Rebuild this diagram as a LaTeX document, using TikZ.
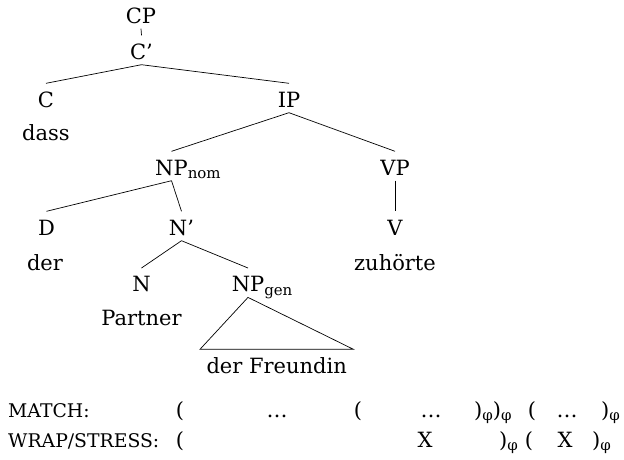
\documentclass[tikz,border=0pt]{standalone}
\usepackage{fontspec}
\setmainfont{DejaVu Serif}
\usetikzlibrary{calc}
% lowered, smaller index text (NP subscripts, phrase marks)
\newcommand\lowidx[1]{\raisebox{-3.5pt}{\fontsize{15}{15}\selectfont #1}}
% small-capital style labels of the constraint rows
\newcommand\smcap[1]{{\fontsize{18.8}{19}\selectfont #1}}
\begin{document}
\begin{tikzpicture}[x=1pt,y=-1pt,
  every node/.style={font=\fontsize{21}{25}\selectfont},
  cat/.style={anchor=base, text height=18pt, text depth=0pt, inner ysep=5.5pt, inner xsep=0pt},
  word/.style={anchor=base, inner sep=0pt},
  branch/.style={line width=0.7pt},
  rowlabel/.style={anchor=base west, inner sep=0pt}]
\useasboundingbox (0,0) rectangle (624,459);

% tree nodes
\node[cat] (cp) at (141,23) {CP};
\node[cat] (cbar) at (141.5,59) {C’};
\node[cat] (c) at (46,107) {C};
\node[word] (dass) at (46,140) {dass};
\node[cat] (ip) at (289,107) {IP};
\node[cat] (npn) at (171.5,175) {NP\rlap{\lowidx{nom}}};
\node[cat] (vp) at (395,175) {VP};
\node[cat] (d) at (46.5,235) {D};
\node[word] (der) at (45,270) {der};
\node[cat] (nbar) at (181.5,235) {N’};
\node[cat] (v) at (395,235) {V};
\node[word] (zuh) at (395,270) {zuhörte};
\node[cat] (n) at (141.5,291.7) {N};
\node[word] (partner) at (141.5,325.7) {Partner};
\node[cat] (npg) at (248,291.7) {NP\rlap{\lowidx{gen}}};
\node[cat] (fr) at (276.7,373) {der Freundin};

% branches
\draw[branch] (cp.south) -- (cbar.north);
\draw[branch] (cbar.south) -- (c.north);
\draw[branch] (cbar.south) -- (ip.north);
\draw[branch] (ip.south) -- (npn.north);
\draw[branch] (ip.south) -- (vp.north);
\draw[branch] (npn.south) -- (d.north);
\draw[branch] (npn.south) -- (nbar.north);
\draw[branch] (vp.south) -- (v.north);
\draw[branch] (nbar.south) -- (n.north);
\draw[branch] (nbar.south) -- (npg.north);
\draw[branch] (npg.south) -- ($(fr.north)+(-76.7,0)$) -- ($(fr.north)+(76.7,0)$) -- cycle;

% MATCH row
\node[rowlabel] (mlab) at (8,417) {\smcap{MATCH:}};
\node[word] (ma) at (180,417) {(};
\node[word] (mb) at (277,417) {…};
\node[word] (mc) at (358,417) {(};
\node[word] (md) at (431,417) {…};
\node[word, anchor=base west] (me) at (474,417) {)\lowidx{φ})\lowidx{φ}};
\node[word] (mf) at (532,417) {(};
\node[word] (mg) at (567,417) {…};
\node[word, anchor=base west] (mh) at (601,417) {)\lowidx{φ}};

% WRAP/STRESS row
\node[rowlabel] (wlab) at (8,447) {\smcap{WRAP/STRESS:}};
\node[word] (wa) at (180,447) {(};
\node[word] (wb) at (425,447) {X};
\node[word, anchor=base west] (wc) at (499,447) {)\lowidx{φ}};
\node[word] (wd) at (529,447) {(};
\node[word] (we) at (565,447) {X};
\node[word, anchor=base west] (wf) at (592,447) {)\lowidx{φ}};
\end{tikzpicture}
\end{document}
